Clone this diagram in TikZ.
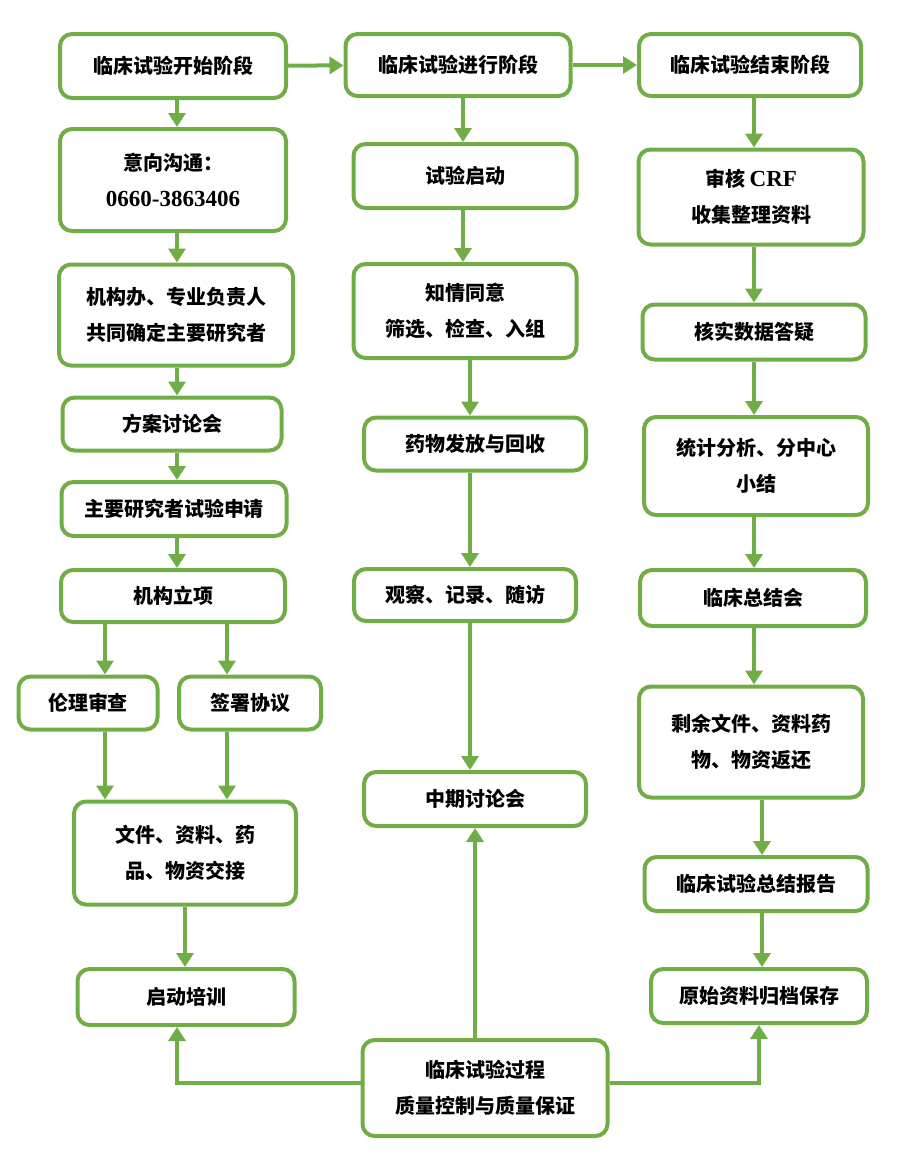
\documentclass[tikz,border=0pt]{standalone}
\usepackage{fontspec}
\setmainfont{Noto Sans CJK SC}
\newfontfamily\numfont{Liberation Serif}
\usepackage{tikz}
\usetikzlibrary{arrows.meta, positioning, calc}
\usepackage{xcolor}
\definecolor{flowgreen}{RGB}{112,173,71}
\newcommand{\numtext}[1]{{\numfont\fontsize{23}{36}\selectfont\bfseries #1}}

\begin{document}
\begin{tikzpicture}[
    x=1pt, y=-1pt,
    stage/.style={rectangle, draw=flowgreen, fill=white, line width=4pt, rounded corners=12pt,
                  inner sep=0pt, align=center, font=\fontsize{20}{36}\selectfont\bfseries},
    arrow/.style={-{Triangle[length=14pt, width=17pt]}, line width=4pt, color=flowgreen}
]
\useasboundingbox (0,0) rectangle (908,1171);
%% left column: start of the trial
\node[stage, minimum width=226pt, minimum height=64pt] (start) at (173,66) {临床试验开始阶段};
\node[stage, minimum width=226pt, minimum height=102pt] (contact) at (173,180)
    {意向沟通：\\\numtext{0660-3863406}};
\node[stage, minimum width=234pt, minimum height=101pt] (office) at (176,315)
    {机构办、专业负责人\\共同确定主要研究者};
\node[stage, minimum width=219pt, minimum height=53pt] (plan) at (172,424) {方案讨论会};
\node[stage, minimum width=225pt, minimum height=54pt] (apply) at (174,509) {主要研究者试验申请};
\node[stage, minimum width=224pt, minimum height=52pt] (approve) at (173,596) {机构立项};
\node[stage, minimum width=139pt, minimum height=53pt] (ethics) at (88,703) {伦理审查};
\node[stage, minimum width=142pt, minimum height=53pt] (sign) at (250,703) {签署协议};
\node[stage, minimum width=222pt, minimum height=103pt] (handover) at (185,853)
    {文件、资料、药\\品、物资交接};
\node[stage, minimum width=217pt, minimum height=56pt] (train) at (186,997) {启动培训};
%% middle column: running the trial
\node[stage, minimum width=225pt, minimum height=62pt] (run) at (458,65) {临床试验进行阶段};
\node[stage, minimum width=223pt, minimum height=64pt] (launch) at (465,176) {试验启动};
\node[stage, minimum width=223pt, minimum height=94pt] (consent) at (465,311)
    {知情同意\\筛选、检查、入组};
\node[stage, minimum width=222pt, minimum height=53pt] (drug) at (475,444) {药物发放与回收};
\node[stage, minimum width=222pt, minimum height=52pt] (observe) at (465,595) {观察、记录、随访};
\node[stage, minimum width=222pt, minimum height=54pt] (midterm) at (475,799) {中期讨论会};
\node[stage, minimum width=245pt, minimum height=96pt] (qc) at (485,1088)
    {临床试验过程\\质量控制与质量保证};
%% right column: end of the trial
\node[stage, minimum width=222pt, minimum height=62pt] (finish) at (750,65) {临床试验结束阶段};
\node[stage, minimum width=225pt, minimum height=95pt] (crf) at (751,197)
    {审核 \numtext{CRF}\\收集整理资料};
\node[stage, minimum width=223pt, minimum height=55pt] (verify) at (754,332) {核实数据答疑};
\node[stage, minimum width=224pt, minimum height=98pt] (stats) at (756,466)
    {统计分析、分中心\\小结};
\node[stage, minimum width=226pt, minimum height=56pt] (summit) at (753,598) {临床总结会};
\node[stage, minimum width=224pt, minimum height=111pt] (leftover) at (751,742)
    {剩余文件、资料药\\物、物资返还};
\node[stage, minimum width=223pt, minimum height=54pt] (report) at (756,884) {临床试验总结报告};
\node[stage, minimum width=216pt, minimum height=54pt] (archive) at (759,996) {原始资料归档保存};
%% vertical axes of the arrows
\coordinate (axisL) at (177,0);
\coordinate (axisE) at (105,0);
\coordinate (axisS) at (227,0);
\coordinate (axisMa) at (463,0);
\coordinate (axisMb) at (470,0);
\coordinate (axisRa) at (754,0);
\coordinate (axisRb) at (762,0);
\coordinate (qcbus) at (0,1083);
%% phase arrows
\draw[arrow] (start) -- (run);
\draw[arrow] (run) -- (finish);
%% left column arrows
\draw[arrow] (start.south -| axisL) -- (contact.north -| axisL);
\draw[arrow] (contact.south -| axisL) -- (office.north -| axisL);
\draw[arrow] (office.south -| axisL) -- (plan.north -| axisL);
\draw[arrow] (plan.south -| axisL) -- (apply.north -| axisL);
\draw[arrow] (apply.south -| axisL) -- (approve.north -| axisL);
\draw[arrow] (approve.south -| axisE) -- (ethics.north -| axisE);
\draw[arrow] (approve.south -| axisS) -- (sign.north -| axisS);
\draw[arrow] (ethics.south -| axisE) -- (handover.north -| axisE);
\draw[arrow] (sign.south -| axisS) -- (handover.north -| axisS);
\draw[arrow] (handover.south) -- (handover.south |- train.north);
%% middle column arrows
\draw[arrow] (run.south -| axisMa) -- (launch.north -| axisMa);
\draw[arrow] (launch.south -| axisMa) -- (consent.north -| axisMa);
\draw[arrow] (consent.south -| axisMb) -- (drug.north -| axisMb);
\draw[arrow] (drug.south -| axisMb) -- (observe.north -| axisMb);
\draw[arrow] (observe.south -| axisMb) -- (midterm.north -| axisMb);
%% right column arrows
\draw[arrow] (finish.south -| axisRa) -- (crf.north -| axisRa);
\draw[arrow] (crf.south -| axisRa) -- (verify.north -| axisRa);
\draw[arrow] (verify.south -| axisRa) -- (stats.north -| axisRa);
\draw[arrow] (stats.south -| axisRa) -- (summit.north -| axisRa);
\draw[arrow] (summit.south -| axisRa) -- (leftover.north -| axisRa);
\draw[arrow] (leftover.south -| axisRb) -- (report.north -| axisRb);
\draw[arrow] (report.south -| axisRb) -- (archive.north -| axisRb);
%% quality control feeds back
\draw[arrow] (qcbus -| qc.west) -| (train.south -| axisL);
\draw[arrow] (qc.north -| midterm.south) -- (midterm.south);
\draw[arrow] (qcbus -| qc.east) -| (archive.south);
\end{tikzpicture}
\end{document}
